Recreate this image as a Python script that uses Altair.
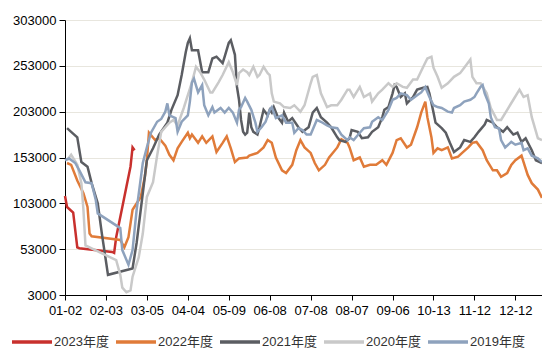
import json
import altair as alt
import pandas as pd

YEARS = ["2023年度", "2022年度", "2021年度", "2020年度", "2019年度"]
COLORS = ["#c8302d", "#e07b39", "#5b5d62", "#c9c9c9", "#8ea2bd"]
TICK_LABELS = ["01-02", "02-03", "03-05", "04-04", "05-09", "06-08",
               "07-08", "08-07", "09-06", "10-13", "11-12", "12-12"]
Y_TICKS = [3000, 53000, 103000, 153000, 203000, 253000, 303000]

# trading-day index and value for each season
X_2023 = [0, 1, 4, 6, 7, 23, 24, 25, 28, 30, 32, 33, 34]
V_2023 = [111000, 99000, 93000, 55000, 54000, 50000, 49000, 66000, 99000,
          121000, 143000, 164000, 161000]

X_2022 = [1, 3, 6, 9, 11, 12, 13, 27, 29, 31, 33, 37, 39, 40, 41, 44, 46, 49, 51, 53,
          55, 57, 60, 61, 62, 65, 67, 69, 72, 74, 77, 79, 81, 83, 85, 89, 90, 94, 97, 99,
          101, 103, 106, 108, 111, 113, 115, 117, 120, 122, 124, 127, 129, 133, 135, 138,
          139, 141, 144, 146, 149, 152, 155, 157, 160, 162, 164, 167, 169, 172, 174, 176,
          177, 179, 180, 182, 184, 187, 189, 192, 194, 197, 199, 201, 204, 206, 209, 211,
          213, 216, 218, 220, 223, 224, 226, 228, 231, 233]
V_2022 = [147000, 145000, 128000, 114000, 99000, 70000, 67000, 63000, 55000, 66000,
          96000, 110000, 132000, 150000, 180000, 172000, 174000, 166000, 156000, 150000,
          163000, 170000, 180000, 174000, 178000, 169000, 176000, 169000, 176000, 159000,
          169000, 176000, 163000, 148000, 152000, 153000, 155000, 158000, 164000, 172000,
          169000, 153000, 139000, 136000, 145000, 161000, 172000, 164000, 158000, 147000,
          139000, 145000, 153000, 164000, 173000, 169000, 164000, 150000, 153000, 143000,
          145000, 145000, 150000, 145000, 158000, 172000, 174000, 164000, 167000, 186000,
          202000, 214000, 197000, 175000, 158000, 163000, 161000, 164000, 152000, 154000,
          158000, 164000, 169000, 170000, 161000, 150000, 139000, 139000, 132000, 136000,
          145000, 150000, 155000, 148000, 134000, 125000, 118000, 109000]

X_2021 = [1, 3, 6, 8, 11, 13, 16, 18, 21, 33, 35, 38, 40, 43, 46, 50, 52, 55, 57, 59,
          60, 61, 62, 65, 67, 70, 72, 74, 77, 78, 80, 81, 83, 84, 85, 86, 87, 88, 89, 90,
          91, 92, 94, 95, 97, 99, 100, 101, 102, 104, 106, 107, 109, 111, 114, 116, 119,
          121, 123, 125, 128, 130, 133, 134, 137, 139, 140, 143, 145, 148, 150, 153, 155,
          156, 158, 160, 161, 162, 164, 166, 167, 170, 172, 175, 177, 178, 180, 181, 184,
          186, 188, 190, 193, 195, 198, 200, 202, 205, 206, 209, 211, 214, 216, 219, 221,
          223, 225, 228, 230, 233]
V_2021 = [185000, 181000, 175000, 148000, 143000, 125000, 103000, 70000, 25000, 32000,
          60000, 114000, 150000, 163000, 178000, 191000, 205000, 221000, 243000, 268000,
          278000, 283000, 270000, 270000, 246000, 246000, 261000, 263000, 256000, 263000,
          278000, 281000, 265000, 230000, 216000, 194000, 181000, 178000, 180000, 202000,
          186000, 181000, 178000, 186000, 205000, 199000, 205000, 202000, 208000, 197000,
          191000, 202000, 192000, 196000, 186000, 181000, 186000, 202000, 207000, 197000,
          191000, 186000, 175000, 172000, 170000, 174000, 183000, 181000, 174000, 175000,
          181000, 186000, 197000, 205000, 208000, 223000, 232000, 230000, 219000, 223000,
          212000, 219000, 227000, 229000, 230000, 223000, 202000, 191000, 185000, 180000,
          169000, 159000, 164000, 172000, 170000, 175000, 181000, 189000, 194000, 191000,
          186000, 181000, 186000, 178000, 180000, 170000, 174000, 161000, 150000, 147000]

X_2020 = [1, 3, 6, 8, 9, 10, 25, 27, 28, 30, 32, 33, 36, 38, 40, 43, 45, 47, 49, 51,
          53, 55, 58, 60, 62, 64, 66, 68, 71, 72, 75, 77, 80, 82, 84, 85, 87, 89, 90, 92,
          94, 95, 97, 99, 100, 101, 102, 105, 107, 110, 112, 115, 117, 120, 121, 123, 125,
          128, 130, 133, 135, 138, 139, 141, 144, 146, 149, 150, 153, 155, 158, 160, 162,
          165, 167, 170, 172, 175, 177, 179, 180, 182, 184, 187, 190, 193, 195, 198, 199,
          201, 203, 206, 208, 211, 213, 216, 219, 222, 224, 226, 228, 231, 233]
V_2020 = [150000, 156000, 145000, 125000, 96000, 57000, 41000, 25000, 11000, 6000,
          8000, 23000, 44000, 70000, 110000, 126000, 155000, 181000, 186000, 191000,
          194000, 188000, 207000, 221000, 235000, 252000, 246000, 238000, 224000, 224000,
          235000, 243000, 257000, 246000, 232000, 245000, 249000, 246000, 243000, 252000,
          241000, 243000, 252000, 245000, 243000, 223000, 214000, 212000, 208000, 207000,
          210000, 203000, 210000, 234000, 241000, 243000, 223000, 208000, 210000, 210000,
          216000, 227000, 227000, 219000, 230000, 219000, 223000, 214000, 223000, 227000,
          234000, 230000, 234000, 230000, 229000, 238000, 238000, 252000, 261000, 263000,
          251000, 241000, 229000, 234000, 241000, 245000, 251000, 260000, 241000, 234000,
          234000, 223000, 207000, 194000, 194000, 205000, 216000, 227000, 219000, 221000,
          197000, 174000, 172000]

X_2019 = [0, 2, 5, 7, 10, 13, 15, 16, 27, 28, 31, 33, 35, 38, 40, 42, 45, 47, 49, 50,
          51, 54, 55, 57, 60, 61, 62, 63, 65, 67, 68, 70, 72, 73, 76, 78, 80, 82, 84, 85,
          86, 88, 89, 91, 93, 94, 96, 98, 100, 101, 103, 106, 108, 111, 112, 114, 116, 118,
          120, 123, 125, 128, 130, 133, 135, 138, 139, 141, 144, 146, 149, 150, 153, 155,
          158, 160, 162, 164, 167, 169, 172, 174, 176, 178, 180, 182, 184, 187, 189, 190,
          193, 195, 198, 200, 201, 203, 204, 205, 207, 208, 210, 212, 213, 215, 218, 220,
          223, 224, 226, 228, 231, 233]
V_2019 = [150000, 152000, 147000, 139000, 126000, 125000, 107000, 92000, 76000, 52000,
          36000, 52000, 96000, 147000, 164000, 180000, 192000, 195000, 203000, 212000,
          199000, 196000, 181000, 192000, 199000, 214000, 235000, 239000, 224000, 232000,
          210000, 199000, 208000, 202000, 207000, 202000, 207000, 202000, 191000, 205000,
          208000, 218000, 214000, 205000, 191000, 181000, 186000, 192000, 205000, 208000,
          196000, 199000, 191000, 191000, 180000, 185000, 183000, 178000, 178000, 194000,
          192000, 188000, 186000, 185000, 178000, 172000, 175000, 172000, 180000, 185000,
          186000, 192000, 197000, 194000, 205000, 216000, 218000, 223000, 221000, 216000,
          221000, 224000, 230000, 219000, 210000, 208000, 207000, 203000, 202000, 207000,
          210000, 214000, 216000, 219000, 223000, 230000, 232000, 223000, 212000, 197000,
          186000, 185000, 172000, 164000, 170000, 167000, 169000, 161000, 163000, 155000,
          152000, 148000]

SERIES = {
    "2023年度": (X_2023, V_2023),
    "2022年度": (X_2022, V_2022),
    "2021年度": (X_2021, V_2021),
    "2020年度": (X_2020, V_2020),
    "2019年度": (X_2019, V_2019),
}

rows = []
for year in YEARS:
    xs, vs = SERIES[year]
    for x, v in zip(xs, vs):
        rows.append({"year": year, "day": x, "value": v})
df = pd.DataFrame(rows)

FONT = "Liberation Sans, Noto Sans CJK SC, sans-serif"
label_expr = json.dumps(TICK_LABELS) + "[round(datum.value / 20)]"

x_enc = alt.X(
    "day:Q",
    scale=alt.Scale(domain=[0, 233], nice=False, zero=False),
    axis=alt.Axis(
        values=list(range(0, 221, 20)), labelExpr=label_expr, grid=False,
        domainColor="black", tickColor="black", tickSize=5, labelFontSize=13,
        labelColor="black", labelPadding=4, title=None, labelFont=FONT,
        labelFlush=False, labelOverlap=False,
    ),
)
y_enc = alt.Y(
    "value:Q",
    scale=alt.Scale(domain=[3000, 303000], nice=False, zero=False),
    axis=alt.Axis(
        values=Y_TICKS, format="d", grid=True, gridColor="#e8e6de",
        domainColor="black", tickColor="black", tickSize=6, labelFontSize=13,
        labelColor="black", labelPadding=3, title=None, labelFont=FONT,
    ),
)
color_enc = alt.Color(
    "year:N",
    scale=alt.Scale(domain=YEARS, range=COLORS),
    legend=alt.Legend(
        orient="none", legendX=-55, legendY=300, direction="horizontal",
        columns=5, title=None, symbolType="stroke", symbolSize=1600,
        symbolStrokeWidth=3.5, labelFontSize=13, labelFont=FONT,
        labelColor="#333333", labelOffset=0, columnPadding=0, padding=0,
    ),
)

base = alt.Chart(df).mark_line(strokeWidth=2.5).encode(x=x_enc, y=y_enc, color=color_enc)
layers = [base.transform_filter(alt.datum.year == y) for y in YEARS]

chart = (
    alt.layer(*layers)
    .properties(
        width=477, height=275,
        padding={"left": 57, "top": 12, "right": 0, "bottom": 58},
        autosize=alt.AutoSizeParams(type="none"),
    )
    .configure_view(stroke=None)
)

chart.save("out.html", embed_options={"renderer": "svg", "actions": False})
